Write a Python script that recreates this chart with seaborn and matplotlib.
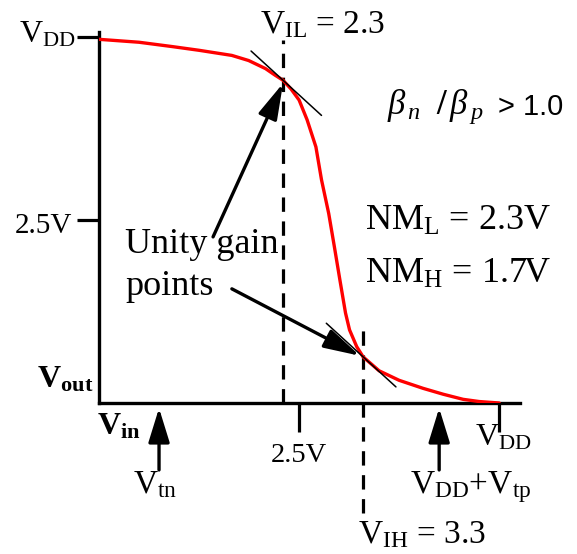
import matplotlib
matplotlib.use("Agg")
import matplotlib.pyplot as plt
import numpy as np
import pandas as pd
import seaborn as sns

# CMOS inverter voltage-transfer characteristic, volts
vin = [0.0, 0.5, 0.92, 1.25, 1.66, 1.87, 2.08, 2.2, 2.3, 2.4, 2.5, 2.6, 2.71,
       2.78, 2.87, 2.94, 3.01, 3.08, 3.13, 3.22, 3.3, 3.5, 3.75, 4.05, 4.3,
       4.55, 4.75, 5.0]
vout = [4.97, 4.93, 4.87, 4.82, 4.75, 4.68, 4.57, 4.48, 4.41, 4.29, 4.14, 3.87,
        3.50, 3.05, 2.59, 2.14, 1.68, 1.23, 1.0, 0.77, 0.63, 0.44, 0.31, 0.20,
        0.12, 0.05, 0.02, 0.0]

VDD = 5.0
VIL = 2.3
VIH = 3.3
VOUT_AT_VIL = 4.41
VOUT_AT_VIH = 0.63
VTN = 0.75
VTP = -0.75
NM_L = 2.3
NM_H = 1.7
GAIN = -1.0
axis_ticks = [2.5, VDD]
beta_ratio = 1.0

sns.set_theme(style="white")
plt.rcParams.update({
    "font.family": ["Liberation Serif", "DejaVu Serif"],
    "mathtext.fontset": "custom",
    "mathtext.rm": "Liberation Serif",
    "mathtext.it": "Liberation Serif:italic",
    "mathtext.bf": "Liberation Serif:bold",
    "text.color": "black",
})

fig = plt.figure(figsize=(5.77, 5.54), dpi=100)
fig.patch.set_facecolor("white")
ax = fig.add_axes([99 / 577, 151 / 554, 421 / 577, 371 / 554])
ax.set_facecolor("white")

df = pd.DataFrame({"Vin": vin, "Vout": vout})
sns.lineplot(data=df, x="Vin", y="Vout", color="#ff0000", lw=2.4, ax=ax,
             sort=False, estimator=None, zorder=3)

ax.set_xlim(0, 5.26)
ax.set_ylim(0, 5.07)
ax.set_xlabel("")
ax.set_ylabel("")
for s in ["top", "right"]:
    ax.spines[s].set_visible(False)
for s in ["left", "bottom"]:
    ax.spines[s].set_linewidth(2.4)
    ax.spines[s].set_color("black")

ax.set_xticks(axis_ticks)
ax.set_yticks(axis_ticks)
ax.set_xticklabels([])
ax.set_yticklabels([])
ax.tick_params(axis="x", bottom=True, direction="out", length=21, width=2.3, color="black")
ax.tick_params(axis="y", left=True, direction="out", length=16, width=2.3, color="black")

# unity-gain tangents
for x0, y0, (xa, xb) in [(VIL, VOUT_AT_VIL, (1.9, 2.78)), (VIH, VOUT_AT_VIH, (2.84, 3.71))]:
    xs = np.array([xa, xb])
    ax.plot(xs, y0 + GAIN * (xs - x0), color="black", lw=1.1, zorder=4)

# input threshold markers
dash = (0, (4.5, 3))
ax.plot([VIL, VIL], [0, 4.96], color="black", lw=2.3, ls=dash, zorder=2)
ax.plot([VIH, VIH], [-1.5, 1.0], color="black", lw=2.3, ls=dash, zorder=2, clip_on=False)


def arrow(tail, tip, hl, hw):
    ax.annotate("", xy=tip, xytext=tail, annotation_clip=False,
                arrowprops=dict(arrowstyle=f"-|>,head_length={hl},head_width={hw}",
                                color="black", lw=2.4, shrinkA=0, shrinkB=0,
                                mutation_scale=1))


arrow((1.425, 2.27), (VIL, VOUT_AT_VIL - 0.04), 22, 6)
arrow((1.66, 1.56), (VIH - 0.04, VOUT_AT_VIH + 0.015), 22, 6)
arrow((VTN, -0.915), (VTN, -0.07), 21, 6.5)
arrow((VDD + VTP, -0.915), (VDD + VTP, -0.07), 21, 6.5)

# axis annotations
ax.text(-0.29, 4.92, r"V$_{\mathrm{DD}}$", ha="right", fontsize=23)
ax.text(-0.3375, 2.32, f"{axis_ticks[0]}V", ha="right", fontsize=21)
ax.text(-0.775, 0.205, r"V$_{\mathbf{out}}$", fontweight="bold", fontsize=23)
ax.text(-0.025, -0.437, r"V$_{\mathbf{in}}$", fontweight="bold", fontsize=23)
ax.text(0.425, -1.23, r"V$_{\mathrm{tn}}$", fontsize=24)
ax.text(axis_ticks[0], -0.806, f"{axis_ticks[0]}V", ha="center", fontsize=20.5)
ax.text(4.7, -0.574, r"V$_{\mathrm{DD}}$", fontsize=23)
ax.text(3.89, -1.23, r"V$_{\mathrm{DD}}$+V$_{\mathrm{tp}}$", fontsize=24)
ax.text(3.24, -1.91, r"V$_{\mathrm{IH}}$" + f" = {VIH}", fontsize=24)
ax.text(2.01, 5.05, r"V$_{\mathrm{IL}}$" + f" = {VIL}", fontsize=24)

# sizing ratio of the two transistors
ax.text(3.6, 3.95, r"$\beta_{\,n}\;\ \mathbf{/}\,\beta_{\,p}$", fontsize=25)
ax.text(4.99, 3.93, f"> {beta_ratio:.1f}", family="Liberation Sans", fontsize=21)

ax.text(3.325, 2.36, r"NM$_{\mathrm{L}}$" + f" = {NM_L}V", fontsize=26)
ax.text(3.325, 1.64, r"NM$_{\mathrm{H}}$" + f" = {NM_H}V", fontsize=26)
ax.text(0.325, 2.05, "Unity gain", fontsize=26)
ax.text(0.325, 1.475, "points", fontsize=26)

fig.savefig("out.png", dpi=100, facecolor="white")
